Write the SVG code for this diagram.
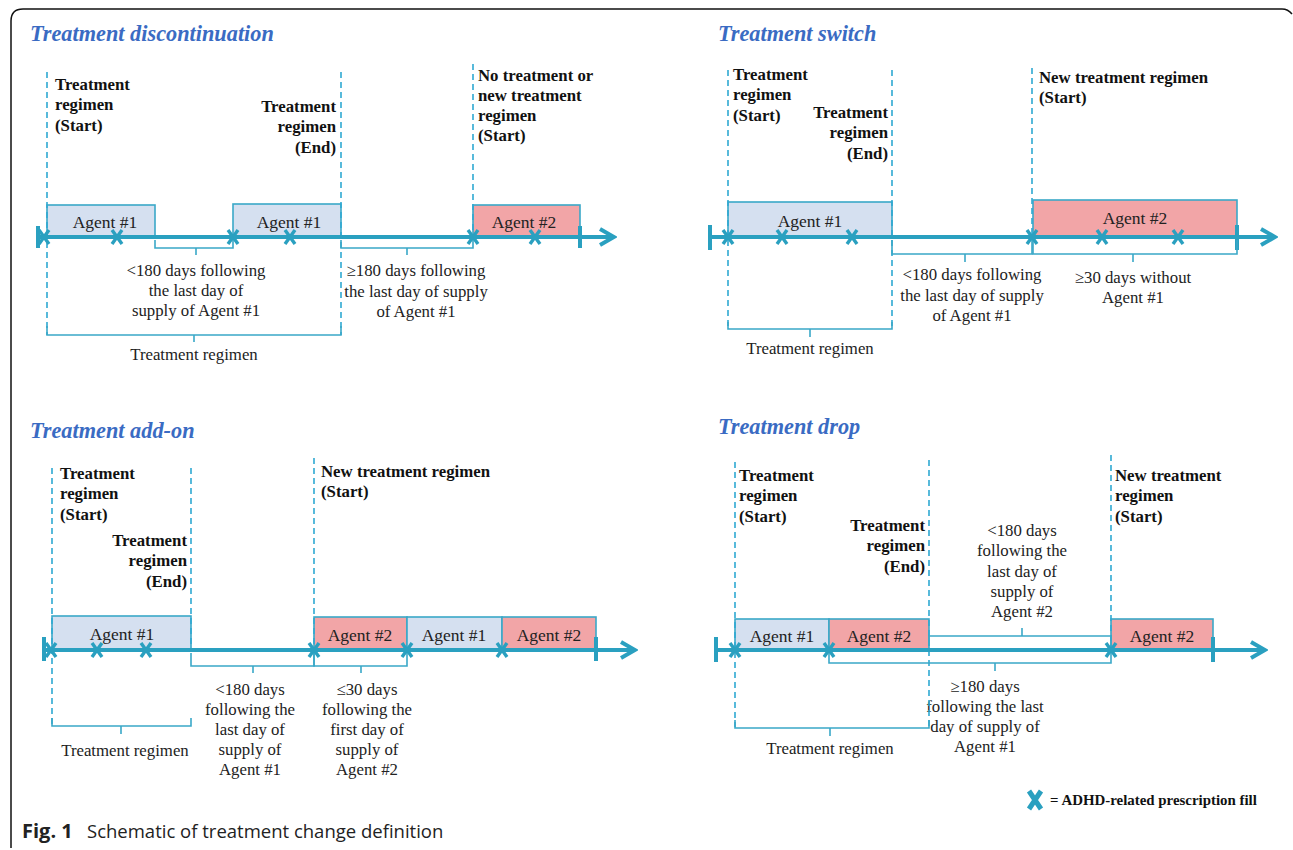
<svg xmlns="http://www.w3.org/2000/svg" width="1293" height="850" viewBox="0 0 1293 850">
<style>
.title{font-family:"Liberation Serif",serif;font-weight:bold;font-style:italic;font-size:22.3px;fill:#3a6bc3}
.lb{font-family:"Liberation Serif",serif;font-weight:bold;font-size:16.8px;fill:#111}
.tx{font-family:"Liberation Serif",serif;font-size:16.8px;fill:#222}
.ag{font-family:"Liberation Serif",serif;font-size:17.5px;fill:#222;text-anchor:middle}
.mid{text-anchor:middle}
.end{text-anchor:end}
.blue{fill:#d5e0f0;stroke:#3aa8c8;stroke-width:1.6}
.red{fill:#f2a5a7;stroke:#3aa8c8;stroke-width:1.6}
.tl{stroke:#2aa0c0;stroke-width:4;fill:none}
.tk{stroke:#2aa0c0;stroke-width:4}
.dash{stroke:#2fa9d2;stroke-width:1.6;stroke-dasharray:6 4;fill:none}
.br{stroke:#3aa8c8;stroke-width:1.6;fill:none}
.cap{font-family:"Open Sans","Noto Sans",sans-serif;font-size:18.5px;fill:#222}
</style>
<defs>
<marker id="arr" viewBox="0 0 20 20" refX="17" refY="10" markerWidth="5" markerHeight="5" markerUnits="strokeWidth" orient="auto">
<polyline points="3,2 17,10 3,18" fill="none" stroke="#2aa0c0" stroke-width="4"/>
</marker>
<g id="xm"><path d="M-5,-7 L5,7 M5,-7 L-5,7" stroke="#2aa0c0" stroke-width="3.4" fill="none"/></g>
</defs>
<rect width="1293" height="850" fill="#fff"/>
<path d="M11,848 L11,21 Q11,9 23,9 L1282,9 Q1288,9 1292,14" fill="none" stroke="#111" stroke-width="1.5"/>

<!-- Panel 1: Treatment discontinuation -->
<g id="p1-title"><text class="title" x="30" y="41">Treatment discontinuation</text></g>
<g id="p1-box1"><rect class="blue" x="47" y="205" width="108" height="32"/><text class="ag" x="105" y="228">Agent #1</text></g>
<g id="p1-box2"><rect class="blue" x="233" y="204" width="108" height="33"/><text class="ag" x="289" y="228">Agent #1</text></g>
<g id="p1-box3"><rect class="red" x="473" y="205" width="107" height="32"/><text class="ag" x="524" y="228">Agent #2</text></g>
<g id="p1-start"><text class="lb" x="55" y="90">Treatment</text><text class="lb" x="55" y="110">regimen</text><text class="lb" x="55" y="131">(Start)</text></g>
<g id="p1-end"><text class="lb end" x="336" y="112">Treatment</text><text class="lb end" x="336" y="132">regimen</text><text class="lb end" x="336" y="153">(End)</text></g>
<g id="p1-new"><text class="lb" x="478" y="81">No treatment or</text><text class="lb" x="478" y="101">new treatment</text><text class="lb" x="478" y="121">regimen</text><text class="lb" x="478" y="141">(Start)</text></g>
<g id="p1-gap1"><text class="tx mid" x="196" y="276">&lt;180 days following</text><text class="tx mid" x="196" y="296">the last day of</text><text class="tx mid" x="196" y="316">supply of Agent #1</text></g>
<g id="p1-gap2"><text class="tx mid" x="416" y="276">≥180 days following</text><text class="tx mid" x="416" y="297">the last day of supply</text><text class="tx mid" x="416" y="317">of Agent #1</text></g>
<g id="p1-reg"><text class="tx mid" x="194" y="360">Treatment regimen</text></g>

<!-- Panel 2: Treatment switch -->
<g id="p2-title"><text class="title" x="718" y="41">Treatment switch</text></g>
<g id="p2-box1"><rect class="blue" x="728" y="202" width="164" height="35"/><text class="ag" x="810" y="227">Agent #1</text></g>
<g id="p2-box2"><rect class="red" x="1033" y="200" width="204" height="37"/><text class="ag" x="1135" y="224">Agent #2</text></g>
<g id="p2-start"><text class="lb" x="733" y="80">Treatment</text><text class="lb" x="733" y="100">regimen</text><text class="lb" x="733" y="121">(Start)</text></g>
<g id="p2-end"><text class="lb end" x="888" y="118">Treatment</text><text class="lb end" x="888" y="138">regimen</text><text class="lb end" x="888" y="159">(End)</text></g>
<g id="p2-new"><text class="lb" x="1039" y="83">New treatment regimen</text><text class="lb" x="1039" y="103">(Start)</text></g>
<g id="p2-gap1"><text class="tx mid" x="972" y="280">&lt;180 days following</text><text class="tx mid" x="972" y="301">the last day of supply</text><text class="tx mid" x="972" y="321">of Agent #1</text></g>
<g id="p2-gap2"><text class="tx mid" x="1133" y="283">≥30 days without</text><text class="tx mid" x="1133" y="303">Agent #1</text></g>
<g id="p2-reg"><text class="tx mid" x="810" y="354">Treatment regimen</text></g>

<!-- Panel 3: Treatment add-on -->
<g id="p3-title"><text class="title" x="30" y="438">Treatment add-on</text></g>
<g id="p3-box1"><rect class="blue" x="52" y="616" width="139" height="34"/><text class="ag" x="122" y="640">Agent #1</text></g>
<g id="p3-box2"><rect class="red" x="314" y="617" width="93" height="33"/><text class="ag" x="360" y="641">Agent #2</text></g>
<g id="p3-box3"><rect class="blue" x="407" y="617" width="95" height="33"/><text class="ag" x="454" y="641">Agent #1</text></g>
<g id="p3-box4"><rect class="red" x="502" y="617" width="94" height="33"/><text class="ag" x="549" y="641">Agent #2</text></g>
<g id="p3-start"><text class="lb" x="60" y="479">Treatment</text><text class="lb" x="60" y="499">regimen</text><text class="lb" x="60" y="520">(Start)</text></g>
<g id="p3-end"><text class="lb end" x="187" y="546">Treatment</text><text class="lb end" x="187" y="566">regimen</text><text class="lb end" x="187" y="587">(End)</text></g>
<g id="p3-new"><text class="lb" x="321" y="477">New treatment regimen</text><text class="lb" x="321" y="497">(Start)</text></g>
<g id="p3-gap1"><text class="tx mid" x="250" y="695">&lt;180 days</text><text class="tx mid" x="250" y="715">following the</text><text class="tx mid" x="250" y="735">last day of</text><text class="tx mid" x="250" y="755">supply of</text><text class="tx mid" x="250" y="775">Agent #1</text></g>
<g id="p3-gap2"><text class="tx mid" x="367" y="695">≤30 days</text><text class="tx mid" x="367" y="715">following the</text><text class="tx mid" x="367" y="735">first day of</text><text class="tx mid" x="367" y="755">supply of</text><text class="tx mid" x="367" y="775">Agent #2</text></g>
<g id="p3-reg"><text class="tx mid" x="125" y="756">Treatment regimen</text></g>

<!-- Panel 4: Treatment drop -->
<g id="p4-title"><text class="title" x="718" y="434">Treatment drop</text></g>
<g id="p4-box1"><rect class="blue" x="735" y="619" width="94" height="31"/><text class="ag" x="782" y="642">Agent #1</text></g>
<g id="p4-box2"><rect class="red" x="829" y="619" width="100" height="31"/><text class="ag" x="879" y="642">Agent #2</text></g>
<g id="p4-box3"><rect class="red" x="1111" y="619" width="102" height="31"/><text class="ag" x="1162" y="642">Agent #2</text></g>
<g id="p4-start"><text class="lb" x="739" y="481">Treatment</text><text class="lb" x="739" y="501">regimen</text><text class="lb" x="739" y="522">(Start)</text></g>
<g id="p4-end"><text class="lb end" x="925" y="531">Treatment</text><text class="lb end" x="925" y="551">regimen</text><text class="lb end" x="925" y="572">(End)</text></g>
<g id="p4-new"><text class="lb" x="1115" y="481">New treatment</text><text class="lb" x="1115" y="501">regimen</text><text class="lb" x="1115" y="522">(Start)</text></g>
<g id="p4-gap1"><text class="tx mid" x="1022" y="536">&lt;180 days</text><text class="tx mid" x="1022" y="556">following the</text><text class="tx mid" x="1022" y="577">last day of</text><text class="tx mid" x="1022" y="597">supply of</text><text class="tx mid" x="1022" y="617">Agent #2</text></g>
<g id="p4-gap2"><text class="tx mid" x="985" y="692">≥180 days</text><text class="tx mid" x="985" y="712">following the last</text><text class="tx mid" x="985" y="732">day of supply of</text><text class="tx mid" x="985" y="752">Agent #1</text></g>
<g id="p4-reg"><text class="tx mid" x="830" y="754">Treatment regimen</text></g>

<!-- Connectors -->
<g id="connectors">
<!-- panel 1 -->
<path class="dash" d="M47,72 V335 M341,72 V335 M473,64 V237"/>
<line class="tl" x1="38" y1="237" x2="614" y2="237" marker-end="url(#arr)"/>
<path class="tk" d="M38,226 V248 M580,226 V248"/>
<path class="br" d="M155,240 V248 H233 V240 M196,248 V255"/>
<path class="br" d="M341,240 V248 H473 V240 M407,248 V255"/>
<path class="br" d="M47,326 V335 H341 V326 M194,335 V342"/>
<!-- panel 2 -->
<path class="dash" d="M728,70 V330 M892,70 V330 M1032,68 V237"/>
<line class="tl" x1="710" y1="237" x2="1275" y2="237" marker-end="url(#arr)"/>
<path class="tk" d="M710,225 V250 M1237,225 V250"/>
<path class="br" d="M892,240 V254 H1032 V240 M965,254 V262"/>
<path class="br" d="M1033,240 V254 H1237 V240 M1133,254 V262"/>
<path class="br" d="M728,322 V329 H892 V322 M810,329 V337"/>
<!-- panel 3 -->
<path class="dash" d="M52,468 V725 M191,468 V650 M314,458 V650"/>
<line class="tl" x1="44" y1="650" x2="635" y2="650" marker-end="url(#arr)"/>
<path class="tk" d="M44,637 V661 M596,637 V661"/>
<path class="br" d="M191,653 V666 H314 V653 M253,666 V673"/>
<path class="br" d="M314,653 V666 H407 V653 M361,666 V673"/>
<path class="br" d="M52,718 V726 H191 V718 M121,726 V734"/>
<!-- panel 4 -->
<path class="dash" d="M735,462 V727 M929,460 V727 M1111,455 V650"/>
<line class="tl" x1="716" y1="650" x2="1265" y2="650" marker-end="url(#arr)"/>
<path class="tk" d="M716,637 V662 M1213,637 V662"/>
<path class="br" d="M929,646 V636 H1111 V646 M1022,636 V628"/>
<path class="br" d="M829,653 V663 H1111 V653 M995,663 V671"/>
<path class="br" d="M735,720 V728 H929 V720 M830,728 V736"/>
</g>

<!-- Prescription fill markers -->
<g id="fills">
<use href="#xm" x="44" y="237"/><use href="#xm" x="117" y="237"/><use href="#xm" x="233" y="237"/><use href="#xm" x="290" y="237"/><use href="#xm" x="473" y="237"/><use href="#xm" x="535" y="237"/>
<use href="#xm" x="728" y="237"/><use href="#xm" x="782" y="237"/><use href="#xm" x="852" y="237"/><use href="#xm" x="1032" y="237"/><use href="#xm" x="1102" y="237"/><use href="#xm" x="1178" y="237"/>
<use href="#xm" x="51" y="650"/><use href="#xm" x="97" y="650"/><use href="#xm" x="146" y="650"/><use href="#xm" x="314" y="650"/><use href="#xm" x="407" y="650"/><use href="#xm" x="502" y="650"/>
<use href="#xm" x="735" y="650"/><use href="#xm" x="829" y="650"/><use href="#xm" x="1111" y="650"/>
</g>

<g id="legend">
<path d="M1029,791 L1041,809 M1041,791 L1029,809" stroke="#2aa0c0" stroke-width="5" fill="none"/>
<text class="lb" x="1050" y="805" style="font-size:14.9px">= ADHD-related prescription fill</text>
</g>

<g id="caption">
<text class="cap" x="22" y="838"><tspan font-weight="bold" font-size="20px">Fig. 1</tspan><tspan x="87">Schematic of treatment change definition</tspan></text>
</g>
</svg>
